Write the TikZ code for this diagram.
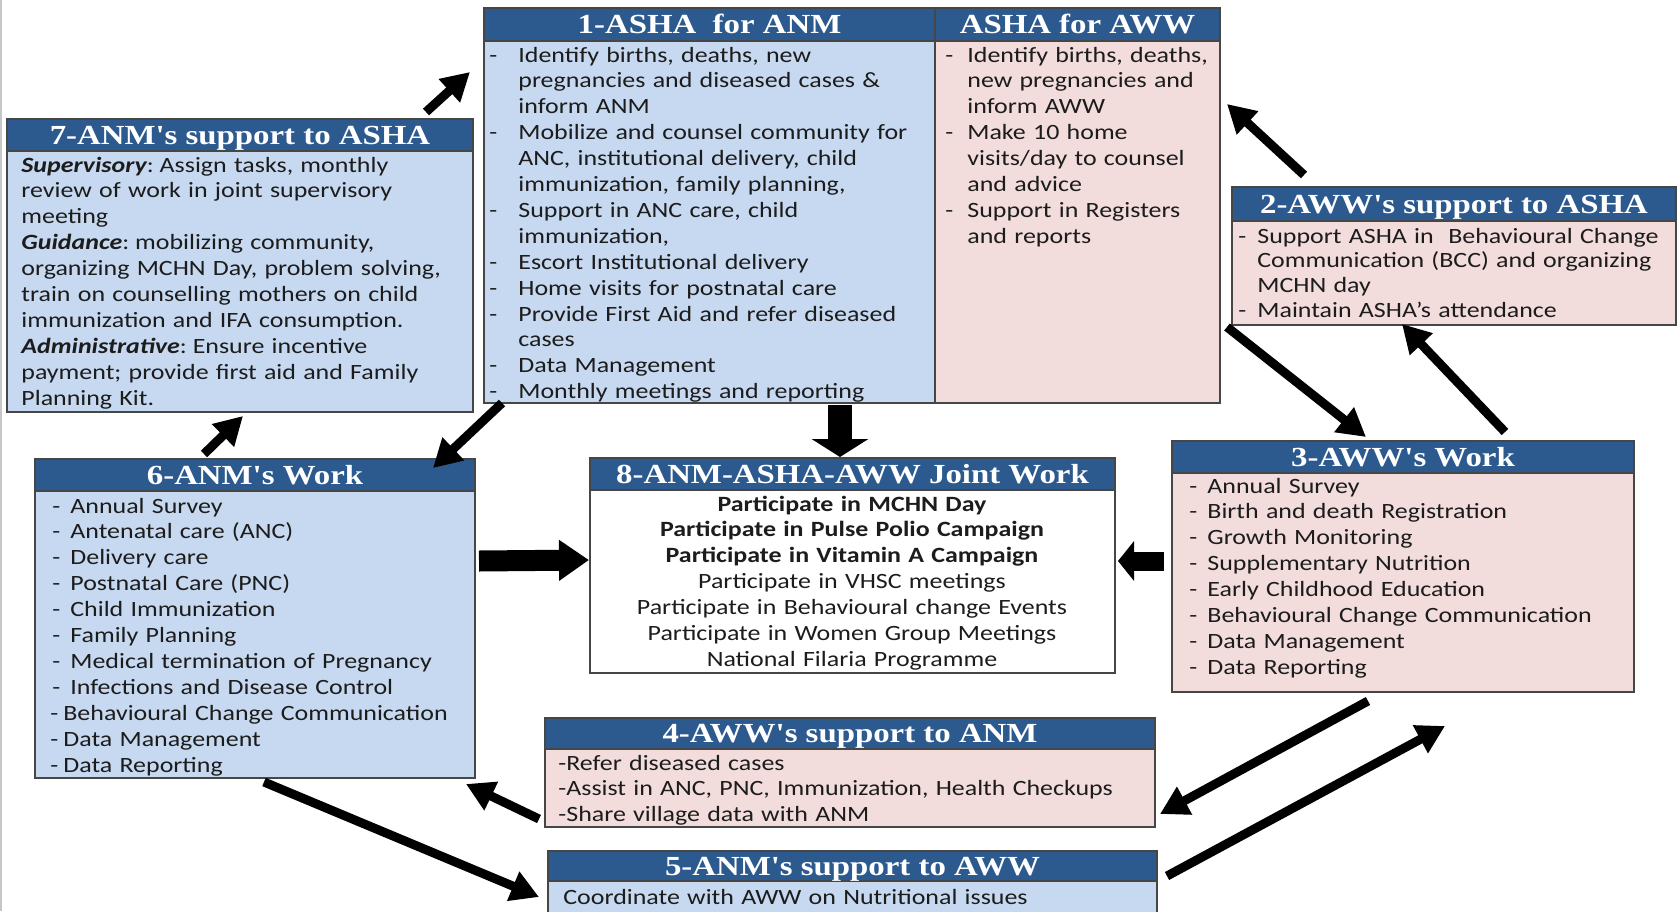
\documentclass[tikz,border=0pt]{standalone}
\usepackage{fontspec}
\setmainfont[FakeStretch=1.19]{Carlito}
\newfontfamily\hdfont[FakeStretch=1.19]{Liberation Serif}
\usetikzlibrary{arrows.meta,fit,calc}

\definecolor{hdblue}{RGB}{44,90,143}
\definecolor{lblue}{RGB}{198,217,240}
\definecolor{lpink}{RGB}{242,220,220}
\definecolor{edge}{RGB}{70,70,70}
\definecolor{ink}{RGB}{28,28,28}

% dash that opens a list item, and the matching indent of its wrapped lines
\newcommand{\dpre}[1]{\makebox[#1][l]{-}}
\newcommand{\dcont}[1]{\hspace*{#1}}
% bold italic lead-in word followed by a tight colon
\newcommand{\lead}[1]{{\bfseries\itshape #1}:\hspace{-2.5pt}}

\tikzset{
  frame/.style={inner sep=0pt, fit={#1}, draw=edge, line width=1pt},
  % title band: width and height in pixels of the drawing grid
  hd/.style 2 args={rectangle, inner sep=0pt, draw=edge, line width=1pt,
    fill=hdblue, minimum width=#1*0.5pt, minimum height=#2*0.5pt,
    text=white, font=\hdfont\fontsize{13.8}{14}\selectfont\bfseries,
    text height=9.2pt, text depth=0pt},
  body/.style={inner sep=0pt, anchor=base west, text width=320pt, align=left,
    text=ink, font=\fontsize{10.9}{12.95}\selectfont},
  cbody/.style={inner sep=0pt, anchor=base, text width=260pt, align=center,
    text=ink, font=\fontsize{10.9}{12.95}\selectfont},
  arr/.style={line width=4.5pt, -{Triangle[length=14pt,width=15pt]}},
}

\begin{document}
\begin{tikzpicture}[x=0.5pt,y=-0.5pt]
\useasboundingbox (0,0) rectangle (1677,911);
\draw[gray!45, line width=1pt] (1,0) -- (1,911);

% ---- 1: ASHA for ANM / ASHA for AWW
\node[frame={(484,8) (935,403)}, fill=lblue] (b1) {};
\node[frame={(935,8) (1220,403)}, fill=lpink] (b1r) {};
\node[hd={451}{33}] (h1a) at (709.5,24.5) {1-ASHA\ \ for ANM};
\node[hd={285}{33}] (h1b) at (1077.5,24.5) {ASHA for AWW};
\node[body] (t1a) at (489,62) {%
\dpre{14.5pt}Identify births, deaths, new\\
\dcont{14.5pt}pregnancies and diseased cases \&\\
\dcont{14.5pt}inform ANM\\
\dpre{14.5pt}Mobilize and counsel community for\\
\dcont{14.5pt}ANC, institutional delivery, child\\
\dcont{14.5pt}immunization, family planning,\\
\dpre{14.5pt}Support in ANC care, child\\
\dcont{14.5pt}immunization,\\
\dpre{14.5pt}Escort Institutional delivery\\
\dpre{14.5pt}Home visits for postnatal care\\
\dpre{14.5pt}Provide First Aid and refer diseased\\
\dcont{14.5pt}cases\\
\dpre{14.5pt}Data Management\\
\dpre{14.5pt}Monthly meetings and reporting};
\node[body] (t1b) at (945,62) {%
\dpre{11pt}Identify births, deaths,\\
\dcont{11pt}new pregnancies and\\
\dcont{11pt}inform AWW\\
\dpre{11pt}Make 10 home\\
\dcont{11pt}visits/day to counsel\\
\dcont{11pt}and advice\\
\dpre{11pt}Support in Registers\\
\dcont{11pt}and reports};

% ---- 7: ANM's support to ASHA
\node[frame={(7,119) (473,412)}, fill=lblue] (b7) {};
\node[hd={466}{32}] (h7) at (240,135) {7-ANM's support to ASHA};
\node[body] (t7) at (21,172) {%
\lead{Supervisory} Assign tasks, monthly\\
review of work in joint supervisory\\
meeting\\
\lead{Guidance} mobilizing community,\\
organizing MCHN Day, problem solving,\\
train on counselling mothers on child\\
immunization and IFA consumption.\\
\lead{Administrative} Ensure incentive\\
payment; provide first aid and Family\\
Planning Kit.};

% ---- 2: AWW's support to ASHA
\node[frame={(1232,187) (1676,325)}, fill=lpink] (b2) {};
\node[hd={444}{34}] (h2) at (1454,204) {2-AWW's support to ASHA};
\node[body, font=\fontsize{10.9}{12.4}\selectfont] (t2) at (1238,243) {%
\dpre{9.5pt}Support ASHA in\ \ Behavioural Change\\
\dcont{9.5pt}Communication (BCC) and organizing\\
\dcont{9.5pt}MCHN day\\
\dpre{9.5pt}Maintain ASHA's attendance};

% ---- 6: ANM's work
\node[frame={(35,459) (475,778)}, fill=lblue] (b6) {};
\node[hd={440}{32}] (h6) at (255,475) {6-ANM's Work};
\node[body] (t6) at (50,513) {%
\hspace*{1pt}\dpre{9pt}Annual Survey\\
\hspace*{1pt}\dpre{9pt}Antenatal care (ANC)\\
\hspace*{1pt}\dpre{9pt}Delivery care\\
\hspace*{1pt}\dpre{9pt}Postnatal Care (PNC)\\
\hspace*{1pt}\dpre{9pt}Child Immunization\\
\hspace*{1pt}\dpre{9pt}Family Planning\\
\hspace*{1pt}\dpre{9pt}Medical termination of Pregnancy\\
\hspace*{1pt}\dpre{9pt}Infections and Disease Control\\
\dpre{6.5pt}Behavioural Change Communication\\
\dpre{6.5pt}Data Management\\
\dpre{6.5pt}Data Reporting};

% ---- 8: joint work
\node[frame={(590,458) (1115,673)}, fill=white] (b8) {};
\node[hd={525}{32}] (h8) at (852.5,474) {8-ANM-ASHA-AWW Joint Work};
\node[cbody] (t8) at (852,511) {%
\textbf{Participate in MCHN Day}\\
\textbf{Participate in Pulse Polio Campaign}\\
\textbf{Participate in Vitamin A Campaign}\\
Participate in VHSC meetings\\
Participate in Behavioural change Events\\
Participate in Women Group Meetings\\
National Filaria Programme};

% ---- 3: AWW's work
\node[frame={(1172,441) (1634,692)}, fill=lpink] (b3) {};
\node[hd={462}{32}] (h3) at (1403,457) {3-AWW's Work};
\node[body] (t3) at (1189,493) {%
\dpre{9pt}Annual Survey\\
\dpre{9pt}Birth and death Registration\\
\dpre{9pt}Growth Monitoring\\
\dpre{9pt}Supplementary Nutrition\\
\dpre{9pt}Early Childhood Education\\
\dpre{9pt}Behavioural Change Communication\\
\dpre{9pt}Data Management\\
\dpre{9pt}Data Reporting};

% ---- 4: AWW's support to ANM
\node[frame={(545,718) (1155,827)}, fill=lpink] (b4) {};
\node[hd={610}{31}] (h4) at (850,733.5) {4-AWW's support to ANM};
\node[body] (t4) at (558,770) {%
-Refer diseased cases\\
-Assist in ANC, PNC, Immunization, Health Checkups\\
-Share village data with ANM};

% ---- 5: ANM's support to AWW
\node[frame={(548,851) (1157,916)}, fill=lblue] (b5) {};
\node[hd={609}{30}] (h5) at (852.5,866) {5-ANM's support to AWW};
\node[body] (t5) at (563,904) {Coordinate with AWW on Nutritional issues};

% ---- connectors
\draw[arr] ([shift={(-48,-6)}]b7.north east) -- ([shift={(-13,65)}]b1.north west);
\draw[arr] ([shift={(170,-4)}]b6.north west) -- ([shift={(237,3)}]b7.south west);
\draw[arr] ([shift={(19,-1)}]b1.south west) -- ([shift={(-43,10)}]b6.north east);
\draw[line width=12pt, -{Triangle[length=9pt,width=28pt]}]
  ([shift={(357,1)}]b1.south west) -- ([shift={(251,0)}]b8.north west);
\draw[line width=10.5pt, -{Triangle[length=15pt,width=19.5pt]}]
  ([shift={(3,103)}]b6.north east) -- ([shift={(0,103)}]b8.north west);
\draw[line width=9.5pt, -{Triangle[length=8pt,width=19.5pt]}]
  ([shift={(-7,121)}]b3.north west) -- ([shift={(2,104)}]b8.north east);
\draw[arr] ([shift={(73,-11)}]b2.north west) -- ([shift={(6,97)}]b1r.north east);
\draw[arr] ([shift={(6,-77)}]b1r.south east) -- ([shift={(195,-3)}]b3.north west);
\draw[arr] ([shift={(334,-8)}]b3.north west) -- ([shift={(171,-2)}]b2.south west);
\draw[arr] ([shift={(197,8)}]b3.south west) -- ([shift={(4,-14)}]b4.south east);
\draw[arr] ([shift={(9,26)}]b5.north east) -- ([shift={(274,33)}]b3.south west);
\draw[arr] ([shift={(-5,-9)}]b4.south west) -- ([shift={(-10,5)}]b6.south east);
\draw[arr] ([shift={(230,3)}]b6.south west) -- ([shift={(-8,47)}]b5.north west);
\end{tikzpicture}
\end{document}
